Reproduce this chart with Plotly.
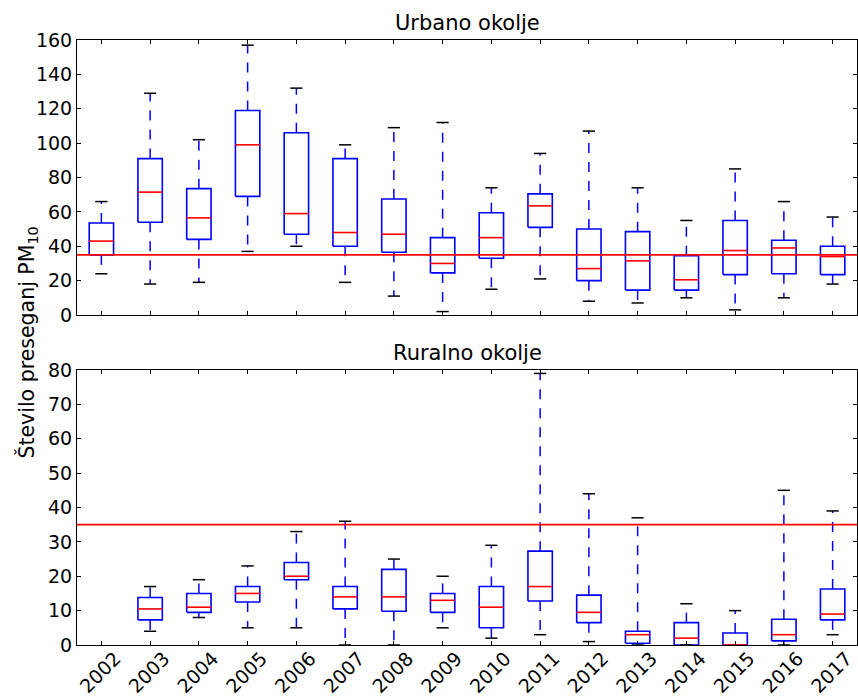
import plotly.graph_objects as go

# ---------------- data ----------------
years = list(range(2002, 2018))
year_labels = [str(y) for y in years]

urban_min = [24, 18, 19, 37, 40, 19, 11, 2, 15, 21, 8, 7, 10, 3, 10, 18]
urban_q1 = [35, 54, 44, 69, 47, 40, 36.5, 24.5, 33, 51, 20, 14.5, 14.5, 23.5, 24, 23.5]
urban_med = [43, 71.5, 56.5, 99, 59, 48, 47, 30, 45, 63.5, 27, 31.5, 20.5, 37.5, 39, 34]
urban_q3 = [53.5, 91, 73.5, 119, 106, 91, 67.5, 45, 59.5, 70.5, 50, 48.5, 34.5, 55, 43.5, 40]
urban_max = [66, 129, 102, 157, 132, 99, 109, 112, 74, 94, 107, 74, 55, 85, 66, 57]

rural_min = [None, 4, 8, 5, 5, 0, 0, 5, 2, 3, 1, 0, 0, 0, 0, 3]
rural_q1 = [None, 7.3, 9.5, 12.5, 19, 10.5, 9.8, 9.5, 5, 12.8, 6.5, 0.5, 0, 0, 1.2, 7.3]
rural_med = [None, 10.5, 11, 15, 20, 14, 14, 13, 11, 17, 9.5, 3, 2, 0, 3, 9]
rural_q3 = [None, 13.8, 15, 17, 24, 17, 22, 15, 17, 27.3, 14.5, 4, 6.5, 3.5, 7.5, 16.3]
rural_max = [None, 17, 19, 23, 33, 36, 25, 20, 29, 79, 44, 37, 12, 10, 45, 39]

limit_value = 35

# ---------------- style ----------------
FONT = "DejaVu Sans"
BOX_HALF = 0.25
CAP_HALF = 0.125
BLUE = "#0000ff"
RED = "#ff0000"


def box_traces(xs, mn, q1, md, q3, mx, xa, ya):
    bx, by, mdx, mdy, wx, wy, cx, cy = [], [], [], [], [], [], [], []
    for x, a, b, c, d, e in zip(xs, mn, q1, md, q3, mx):
        if c is None:
            continue
        bx += [x - BOX_HALF, x + BOX_HALF, x + BOX_HALF, x - BOX_HALF, x - BOX_HALF, None]
        by += [b, b, d, d, b, None]
        mdx += [x - BOX_HALF, x + BOX_HALF, None]
        mdy += [c, c, None]
        wx += [x, x, None, x, x, None]
        wy += [d, e, None, b, a, None]
        cx += [x - CAP_HALF, x + CAP_HALF, None, x - CAP_HALF, x + CAP_HALF, None]
        cy += [e, e, None, a, a, None]
    common = dict(mode="lines", xaxis=xa, yaxis=ya, hoverinfo="skip", showlegend=False)
    return [
        go.Scatter(x=wx, y=wy, line=dict(color=BLUE, width=1.5, dash="10px,9px"), **common),
        go.Scatter(x=bx, y=by, line=dict(color=BLUE, width=1.6), **common),
        go.Scatter(x=cx, y=cy, line=dict(color="black", width=1.5), **common),
        go.Scatter(x=mdx, y=mdy, line=dict(color=RED, width=1.6), **common),
    ]


fig = go.Figure()
for t in box_traces(years, urban_min, urban_q1, urban_med, urban_q3, urban_max, "x", "y"):
    fig.add_trace(t)
for t in box_traces(years, rural_min, rural_q1, rural_med, rural_q3, rural_max, "x2", "y2"):
    fig.add_trace(t)

axis_common = dict(
    showline=True, linecolor="black", linewidth=1, mirror="ticks",
    ticks="inside", ticklen=4, tickcolor="black", tickwidth=1,
    showgrid=False, zeroline=False, automargin=False,
    tickfont=dict(family=FONT, size=19, color="black"),
)

fig.update_layout(
    width=858, height=696,
    margin=dict(l=77, r=1, t=40, b=51),
    plot_bgcolor="white", paper_bgcolor="white",
    font=dict(family=FONT, color="black"),
    xaxis=dict(domain=[0, 1], range=[2001.5, 2017.5], tickvals=years, ticktext=year_labels,
               showticklabels=False, anchor="y", **axis_common),
    yaxis=dict(domain=[0.54545, 1], range=[0, 160], dtick=20, anchor="x", **axis_common),
    xaxis2=dict(domain=[0, 1], range=[2001.5, 2017.5], tickvals=years, ticktext=year_labels,
                tickangle=-45, ticklabelshift=14, ticklabelstandoff=-6, anchor="y2", **axis_common),
    yaxis2=dict(domain=[0, 0.45455], range=[0, 80], dtick=10, anchor="x2", **axis_common),
    shapes=[
        dict(type="line", xref="x domain", yref="y", x0=0, x1=1, y0=limit_value, y1=limit_value,
             line=dict(color=RED, width=1.8)),
        dict(type="line", xref="x2 domain", yref="y2", x0=0, x1=1, y0=limit_value, y1=limit_value,
             line=dict(color=RED, width=1.8)),
    ],
    annotations=[
        dict(text="Urbano okolje", xref="paper", yref="paper", x=0.5, y=1, yanchor="bottom",
             xanchor="center", showarrow=False, yshift=3, font=dict(family=FONT, size=21)),
        dict(text="Ruralno okolje", xref="paper", yref="paper", x=0.5, y=0.45455, yanchor="bottom",
             xanchor="center", showarrow=False, yshift=3, font=dict(family=FONT, size=21)),
        dict(text="Število preseganj PM<sub>10</sub>", xref="paper", yref="paper", x=-0.064, y=0.5,
             xanchor="center", yanchor="middle", textangle=-90, showarrow=False,
             font=dict(family=FONT, size=20.5)),
    ],
)

fig.write_html(
    "out.html",
    config={"displayModeBar": False},
    post_script="document.body.style.margin='0';document.body.style.overflow='hidden';",
)
